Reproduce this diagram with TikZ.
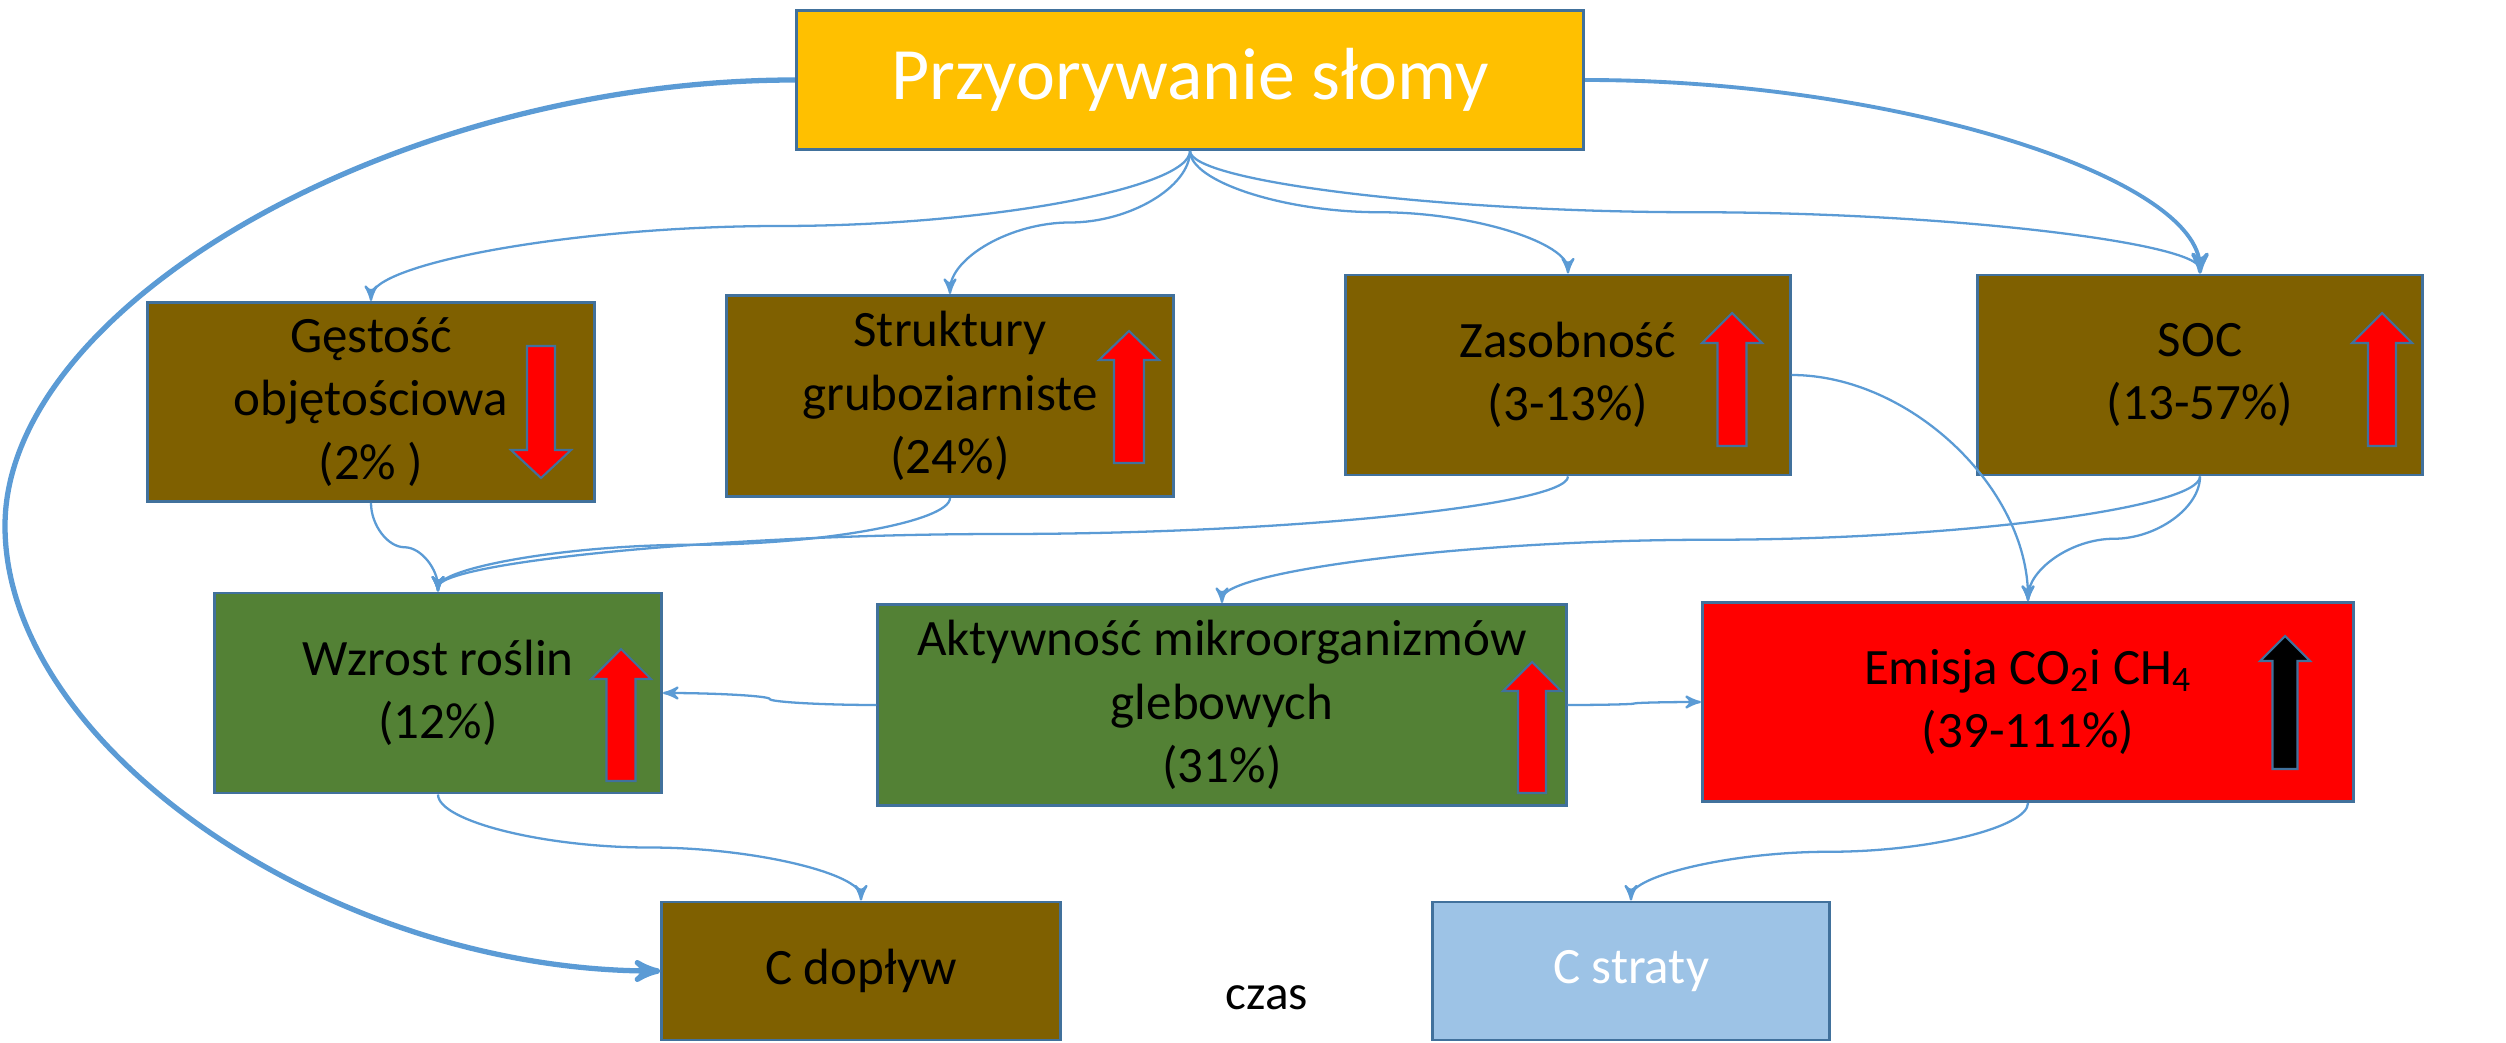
\documentclass[tikz,border=0pt]{standalone}
\usepackage{fontspec}
\setmainfont{Carlito}
\usepackage{tikz}
\usetikzlibrary{arrows,calc}

\definecolor{zloty}{HTML}{FFC000}
\definecolor{brazowy}{HTML}{7F6000}
\definecolor{zielony}{HTML}{538135}
\definecolor{czerwony}{HTML}{FF0000}
\definecolor{jasnoniebieski}{HTML}{9DC3E6}
\definecolor{ramka}{HTML}{41719C}
\definecolor{linia}{HTML}{5B9BD5}

% luk pionowy (S), poziomy (S) i narozny
\newcommand{\lukpion}[3][]{
  \path (#2) coordinate (s) (#3) coordinate (e) ($(s)!0.5!(e)$) coordinate (m)
        ($(s)!0.25!(e)$) coordinate (q1) ($(s)!0.75!(e)$) coordinate (q3);
  \draw[pol,#1] (#2) .. controls (s|-q1) and (q1|-m) .. (m) .. controls (q3|-m) and (e|-q3) .. (#3);}
\newcommand{\lukpoziom}[3][]{
  \path (#2) coordinate (s) (#3) coordinate (e) ($(s)!0.5!(e)$) coordinate (m)
        ($(s)!0.25!(e)$) coordinate (q1) ($(s)!0.75!(e)$) coordinate (q3);
  \draw[pol,#1] (#2) .. controls (q1|-s) and (m|-q1) .. (m) .. controls (m|-q3) and (q3|-e) .. (#3);}
\newcommand{\lukrog}[3][]{
  \path (#2) coordinate (s) (#3) coordinate (e) ($(s)!0.5!(e)$) coordinate (m);
  \draw[pol,#1] (#2) .. controls (m|-s) and (e|-m) .. (#3);}
% strzalka blokowa: kolor, x, grot, podstawa grotu, koniec, pol. szer. grotu, pol. szer. trzonu
\newcommand{\strzalka}[7]{
  \filldraw[-,fill=#1,draw=ramka,line width=0.6pt] (#2,-#3) -- (#2+#6,-#4) -- (#2+#7,-#4) -- (#2+#7,-#5)
    -- (#2-#7,-#5) -- (#2-#7,-#4) -- (#2-#6,-#4) -- cycle;}

\begin{document}
\begin{tikzpicture}[>=stealth',x=0.01cm,y=0.01cm]
  \tikzstyle{pole}=[draw=ramka,line width=0.8pt,align=center,text=black,font=\fontsize{14.5pt}{18pt}\selectfont]
  \tikzstyle{brazowe}=[pole,fill=brazowy]
  \tikzstyle{zielone}=[pole,fill=zielony]
  \tikzstyle{pol}=[->,draw=linia,line width=0.65pt]
  \tikzstyle{grube}=[line width=1.5pt]
  \useasboundingbox (0,0) rectangle (2506,-1043);

  \node[pole,fill=zloty,text=white,minimum width=7.87cm,minimum height=1.39cm,
        font=\fontsize{21pt}{25pt}\selectfont] (top) at (1190,-80) {Przyorywanie słomy};

  \node[brazowe,minimum width=4.47cm,minimum height=1.99cm] (gest)   at (371,-402)  {Gęstość\\objętościowa\\(2\% )};
  \node[brazowe,minimum width=4.46cm,minimum height=2.01cm] (strukt) at (950,-396)  {Struktury\\gruboziarniste\\(24\%)};
  \node[brazowe,minimum width=4.44cm,minimum height=2cm]    (zasob)  at (1568,-375) {Zasobność\\(3-13\%)};
  \node[brazowe,minimum width=4.45cm,minimum height=2cm]    (soc)    at (2200,-375) {SOC\\(13-57\%)};

  \node[zielone,minimum width=4.47cm,minimum height=2cm]    (wzrost) at (438,-693)  {Wzrost roślin\\(12\%)};
  \node[zielone,minimum width=6.88cm,minimum height=2.01cm] (aktyw)  at (1222,-705) {Aktywność mikroorganizmów\\glebowych\\(31\%)};
  \node[pole,fill=czerwony,minimum width=6.51cm,minimum height=1.99cm] (emisja) at (2028,-702)
        {Emisja CO\textsubscript{2}i CH\textsubscript{4}\\(39-111\%)};

  \node[brazowe,minimum width=3.98cm,minimum height=1.38cm] (cdoplyw) at (861,-971)  {C dopływ};
  \node[pole,fill=jasnoniebieski,text=white,minimum width=3.97cm,minimum height=1.38cm] (cstraty) at (1631,-971) {C straty};
  \node[font=\fontsize{14pt}{17pt}\selectfont] (czas) at (1267,-998) {czas};

  % strzalki w polach
  \strzalka{czerwony}{541}{478}{450}{346}{30}{14}
  \strzalka{czerwony}{1129}{331}{360}{463}{30}{15}
  \strzalka{czerwony}{1732}{313}{343}{446}{30}{14.5}
  \strzalka{czerwony}{2382}{313}{343}{446}{30}{14}
  \strzalka{czerwony}{621}{649}{679}{781}{30}{14.5}
  \strzalka{czerwony}{1532}{662}{691}{793}{29}{14}
  \strzalka{black}{2285}{636}{661}{769}{25}{12.5}

  % polaczenia
  \lukpion{top.south}{gest.north}
  \lukpion{top.south}{strukt.north}
  \lukpion{top.south}{zasob.north}
  \lukpion{top.south}{soc.north}
  \lukrog[line width=1.1pt]{top.east}{soc.north}
  \coordinate (lewy) at (5,-526);
  \draw[pol,grube] (top.west) .. controls +(-396,0) and +(0,222) .. (lewy)
                   .. controls +(0,-222) and +(-328,0) .. (cdoplyw.west);
  \lukpion{gest.south}{wzrost.north}
  \lukpion{strukt.south}{wzrost.north}
  \lukpion{zasob.south}{wzrost.north}
  \lukpion{soc.south}{aktyw.north}
  \lukpion{soc.south}{emisja.north}
  \lukrog{zasob.east}{emisja.north}
  \lukpoziom{aktyw.west}{wzrost.east}
  \lukpoziom{aktyw.east}{emisja.west}
  \lukpion{emisja.south}{cstraty.north}
  \lukpion{wzrost.south}{cdoplyw.north}
\end{tikzpicture}
\end{document}
